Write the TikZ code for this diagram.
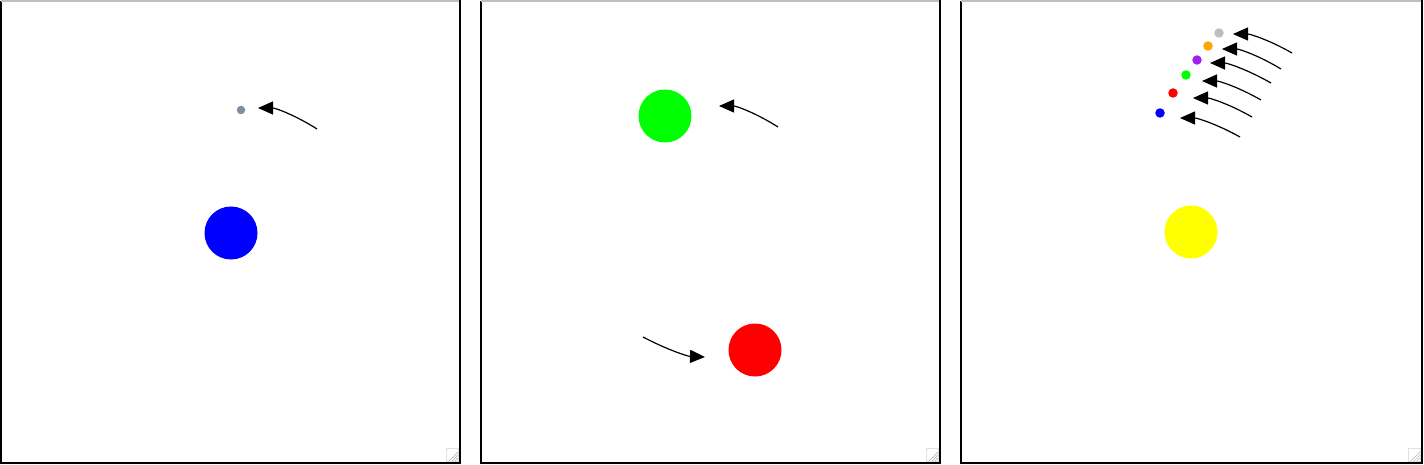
\documentclass[tikz,border=0pt]{standalone}
\usepackage{xcolor}
\usetikzlibrary{calc, arrows.meta}

\begin{document}
\begin{tikzpicture}[x=1pt, y=-1pt, >={Triangle[length=15pt, width=13pt]},
    body/.style={circle, inner sep=0pt, minimum size=53pt},
    dot/.style={circle, inner sep=0pt, minimum size=9.5pt},
    orbit/.style={->, line width=1.2pt}]
    % Colours for the bodies
    \definecolor{slategray}{RGB}{125, 140, 158}
    \definecolor{moongray}{RGB}{190, 190, 190}
    \definecolor{moonorange}{RGB}{255, 165, 0}
    \definecolor{moonpurple}{RGB}{160, 32, 240}
    \definecolor{stargold}{RGB}{255, 255, 0}
    \definecolor{puregreen}{RGB}{0, 255, 0}

    \useasboundingbox (0,0) rectangle (1424,465);

    % 1. Three frames with a resize grip in the corner
    \foreach \xl/\xr in {1.2/460, 481.2/940, 961.2/1421.8} {
        \draw[line width=2.4pt] (\xl,1) -- (\xl,463.2) -- (\xr,463.2) -- (\xr,0);
        \draw[line width=2.4pt, black!25] (\xl,1.2) -- (\xr-1.2,1.2);
        \draw[black!12] (\xr-14,448) rectangle (\xr-2,461);
        \foreach \d in {3,6,9}
            \draw[black!35] (\xr-2-\d,461) -- (\xr-2,461-\d);
    }

    % 2. Left panel
    \node[body, fill=blue] (sun) at (231,233) {};
    \node[dot, minimum size=8.5pt, fill=slategray] (moon) at (241,110) {};
    \coordinate (moonTail) at (317,129);
    \coordinate (moonTip) at (258,108);
    \coordinate (moonQ) at ($(moonTip)+(26,0)$);
    \draw[orbit] (moonTail) .. controls ($(moonTail)!0.667!(moonQ)$)
        and ($(moonTip)!0.667!(moonQ)$) .. (moonTip);

    % 3. Middle panel
    \node[body, fill=puregreen] (greenBody) at (665,116) {};
    \node[body, fill=red] (redBody) at (755,350) {};
    \coordinate (greenTail) at (778,127);
    \coordinate (greenTip) at (719,106);
    \coordinate (greenQ) at ($(greenTip)+(26,0)$);
    \draw[orbit] (greenTail) .. controls ($(greenTail)!0.667!(greenQ)$)
        and ($(greenTip)!0.667!(greenQ)$) .. (greenTip);
    \coordinate (redTail) at (643,337);
    \coordinate (redTip) at (705,357);
    \coordinate (redQ) at ($(redTip)+(-26,-1)$);
    \draw[orbit] (redTail) .. controls ($(redTail)!0.667!(redQ)$)
        and ($(redTip)!0.667!(redQ)$) .. (redTip);

    % 4. Right panel
    \node[body, fill=stargold] (star) at (1191,232) {};
    \foreach \n/\col/\px/\py/\tx/\ty/\ex/\ey in {
        1/moongray/1219/33/1292/53/1233/34,
        2/moonorange/1208/46/1281/69/1222/49,
        3/moonpurple/1197/60/1271/83/1210/63,
        4/puregreen/1186/75/1261/100/1202/81,
        5/red/1173/93/1252/117/1193/98,
        6/blue/1160/113/1240/137/1180/118} {
        \node[dot, fill=\col] (p\n) at (\px,\py) {};
        \coordinate (t\n) at (\tx,\ty);
        \coordinate (e\n) at (\ex,\ey);
        \coordinate (q\n) at ($(e\n)+(26,0)$);
        \draw[orbit] (t\n) .. controls ($(t\n)!0.667!(q\n)$)
            and ($(e\n)!0.667!(q\n)$) .. (e\n);
    }
\end{tikzpicture}
\end{document}
